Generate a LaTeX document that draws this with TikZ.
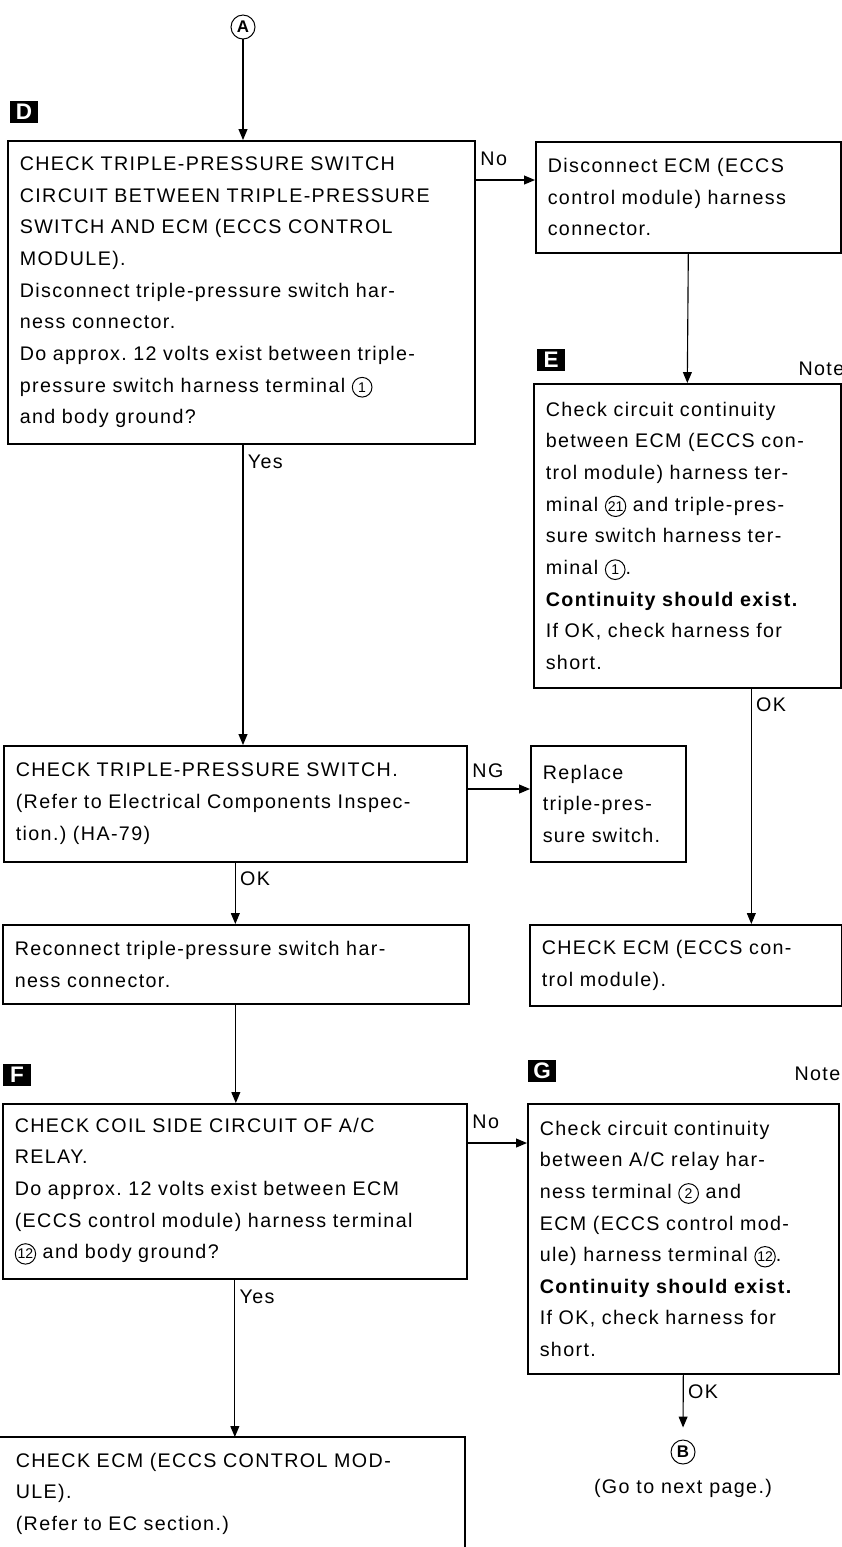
\documentclass[tikz,border=0pt]{standalone}
\usepackage{fontspec}
\setmainfont{Liberation Sans}[LetterSpace=7]
\usetikzlibrary{arrows.meta}
\frenchspacing

% circled terminal number
\newcommand{\cnum}[1]{\tikz[baseline=(cn.base)]\node[draw, circle, line width=0.7pt,
  inner sep=0.5pt, minimum size=14pt, anchor=base, text width={}, minimum height=14pt,
  font=\fontsize{10}{10}\selectfont\addfontfeature{LetterSpace=0}] (cn) {#1};}

\begin{document}
\begin{tikzpicture}[x=0.025cm, y=-0.025cm,
  box/.style={draw, line width=1.1pt, anchor=north west, align=left,
    inner xsep=0.3cm, inner ysep=0pt, font=\fontsize{14}{22.5}\selectfont},
  tag/.style={fill=black, text=white, inner sep=0pt, minimum width=0.7cm,
    minimum height=0.55cm, font=\bfseries\fontsize{16}{16}\selectfont},
  lbl/.style={inner sep=3pt, font=\fontsize{14}{14}\selectfont},
  circ/.style={draw, circle, line width=0.7pt, minimum size=0.6cm, inner sep=0pt,
    font=\bfseries\fontsize{12}{12}\selectfont\addfontfeature{LetterSpace=0}},
  arr/.style={line width=0.8pt, -{Triangle[length=2.7mm, width=2.2mm]}}]
  \useasboundingbox (0,0) rectangle (842,1547);
  \clip (0,0) rectangle (842,1547);

  % D
  \node[circ] (circA) at (243,27) {A};
  \node[tag] (tagD) at (24,112) {D};
  \node[box, text width=11.075cm, minimum height=7.575cm] (chkcirc) at (7,140)
    {CHECK TRIPLE-PRESSURE SWITCH\\
     CIRCUIT BETWEEN TRIPLE-PRESSURE\\
     SWITCH AND ECM (ECCS CONTROL\\
     MODULE).\\
     Disconnect triple-pressure switch har-\\
     ness connector.\\
     Do approx. 12 volts exist between triple-\\
     pressure switch harness terminal \cnum{1}\\
     and body ground?};
  \node[box, text width=7.025cm, minimum height=2.775cm] (discon) at (535,141)
    {Disconnect ECM (ECCS\\
     control module) harness\\
     connector.};

  % E
  \node[tag] (tagE) at (551,360) {E};
  \node[lbl, anchor=west] (noteE) at (794,369) {Note};
  \node[box, text width=7.075cm, minimum height=7.6cm] (contE) at (533,383)
    {Check circuit continuity\\
     between ECM (ECCS con-\\
     trol module) harness ter-\\
     minal \cnum{21} and triple-pres-\\
     sure switch harness ter-\\
     minal \cnum{1}.\\
     \textbf{Continuity should exist.}\\
     If OK, check harness for\\
     short.};

  \node[box, text width=10.975cm, minimum height=2.9cm] (chksw) at (3,745)
    {CHECK TRIPLE-PRESSURE SWITCH.\\
     (Refer to Electrical Components Inspec-\\
     tion.) (HA-79)};
  \node[box, text width=3.275cm, minimum height=2.9cm] (repl) at (530,745)
    {Replace\\
     triple-pres-\\
     sure switch.};
  \node[box, text width=11.05cm, minimum height=1.975cm] (recon) at (2,924)
    {Reconnect triple-pressure switch har-\\
     ness connector.};
  \node[box, text width=7.2cm, minimum height=2.025cm] (chkecm) at (529,924)
    {CHECK ECM (ECCS con-\\
     trol module).};

  % F, G
  \node[tag] (tagF) at (17,1075) {F};
  \node[tag] (tagG) at (542,1071) {G};
  \node[lbl, anchor=west] (noteG) at (790,1074) {Note};
  \node[box, text width=11cm, minimum height=4.375cm] (chkcoil) at (2,1103)
    {CHECK COIL SIDE CIRCUIT OF A/C\\
     RELAY.\\
     Do approx. 12 volts exist between ECM\\
     (ECCS control module) harness terminal\\
     \cnum{12} and body ground?};
  \node[box, text width=7.175cm, minimum height=6.75cm] (contG) at (527,1103)
    {Check circuit continuity\\
     between A/C relay har-\\
     ness terminal \cnum{2} and\\
     ECM (ECCS control mod-\\
     ule) harness terminal \cnum{12}.\\
     \textbf{Continuity should exist.}\\
     If OK, check harness for\\
     short.};
  \node[circ] (circB) at (683,1452) {B};
  \node[lbl, below=7pt] (nextpg) at (circB.south) {(Go to next page.)};

  % bottom box, cut off by the page
  \coordinate (ecmtop) at (465,1437);
  \node[box, draw=none, text width=10.65cm] (ecmB) at (3,1452)
    {CHECK ECM (ECCS CONTROL MOD-\\
     ULE).\\
     (Refer to EC section.)};
  \draw[line width=1.1pt] (-5,1437) -- (ecmtop) -- (465,1580);

  % connectors
  \draw[arr] (circA) -- (circA |- chkcirc.north);
  \draw[arr] ([yshift=-1cm]chkcirc.north east) coordinate (noD)
    node[lbl, above right, yshift=7pt] (lblNoD) {No} -- (noD -| discon.west);
  \draw[arr] (discon.south) -- (contE.north);
  \draw[arr] ([xshift=1.6cm]contE.south) coordinate (okE)
    node[lbl, below right, yshift=-3pt] (lblOkE) {OK} -- (okE |- chkecm.north);
  \draw[arr] (circA |- chkcirc.south)
    node[lbl, below right, yshift=-4pt] (lblYesD) {Yes} -- (circA |- chksw.north);
  \draw[arr] ([yshift=-1.1cm]chksw.north east) coordinate (ngS)
    node[lbl, above right, yshift=5pt] (lblNg) {NG} -- (ngS -| repl.west);
  \draw[arr] (chksw.south)
    node[lbl, below right, yshift=-3pt] (lblOkS) {OK} -- (chksw.south |- recon.north);
  \draw[arr] (recon.south) -- (recon.south |- chkcoil.north);
  \draw[arr] ([yshift=-1cm]chkcoil.north east) coordinate (noF)
    node[lbl, above right, yshift=7pt] (lblNoF) {No} -- (noF -| contG.west);
  \draw[arr] (chkcoil.south)
    node[lbl, below right, yshift=-4pt] (lblYesF) {Yes} -- (chkcoil.south |- ecmtop);
  \draw[arr, shorten >=0.3cm] (contG.south)
    node[lbl, below right, yshift=-4pt] (lblOkG) {OK} -- (circB.north);
\end{tikzpicture}
\end{document}
